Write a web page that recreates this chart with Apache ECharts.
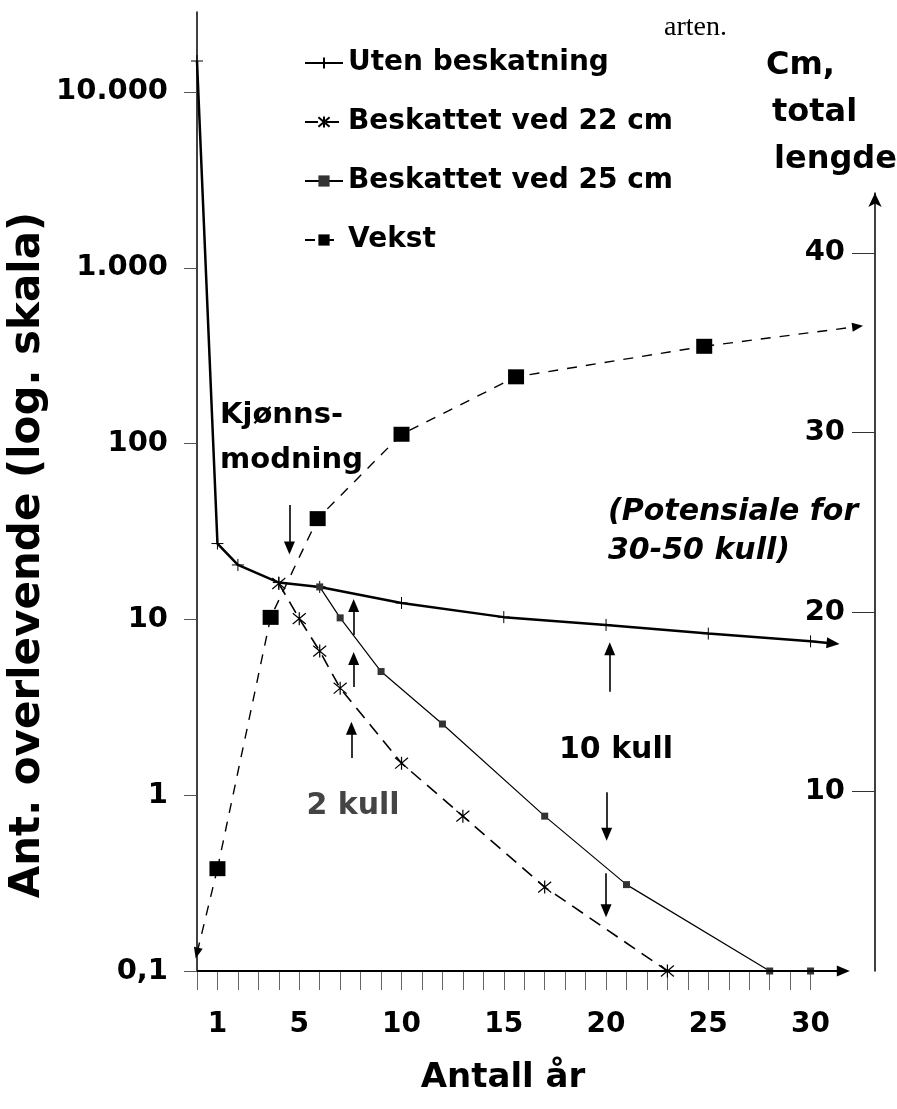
<!DOCTYPE html>
<html><head><meta charset="utf-8">
<script src="https://cdn.jsdelivr.net/npm/echarts@6/dist/echarts.min.js"></script>
<style>html,body{margin:0;padding:0;background:#fff}#c{width:897px;height:1109px}</style>
</head><body><div id="c"></div>
<script>
// ---- data ----
const yearsUten = [0, 1, 2, 4, 6, 10, 15, 20, 25, 30];
const valsUten  = [15000, 27, 20.4, 16.2, 15.3, 12.4, 10.3, 9.3, 8.3, 7.5];
const utenArrowEnd = [31.1, 7.3];

const years22 = [4, 5, 6, 7, 10, 13, 17, 23];
const vals22  = [16, 10.1, 6.6, 4.06, 1.52, 0.76, 0.30, 0.1];

const years25 = [6, 7, 9, 12, 17, 21, 28, 30];
const vals25  = [15.3, 10.2, 5.05, 2.54, 0.76, 0.31, 0.1, 0.1];

const yearsVekst = [1, 3.6, 5.9, 10, 15.6, 24.8];
const cmVekst    = [5.7, 19.7, 25.2, 29.9, 33.1, 34.8];
const vekstStart = [0, 1.0];
const vekstArrowEnd = [32.3, 35.9];

const xAxisArrowEnd = 31.6;
const xTickValues = Array.from({length: 31}, (_, i) => i);
const xLabelValues = [1, 5, 10, 15, 20, 25, 30];
const yTickValues = [0.1, 1, 10, 100, 1000, 10000];
const yTickLabels = ['0,1', '1', '10', '100', '1.000', '10.000'];
const cmTickValues = [10, 20, 30, 40];

// annotation arrows: [year, from value, to value]
const annotArrows = [
  [4.52, 44.8, 25.5],   // Kjønnsmodning
  [7.66, 8.15, 12.0],
  [7.66, 4.12, 6.0],
  [7.55, 1.63, 2.4],
  [20.18, 3.87, 6.8],
  [20.03, 1.04, 0.6],
  [20.0, 0.36, 0.22]
];

const FONT = '"DejaVu Sans", sans-serif';
const chart = echarts.init(document.getElementById('c'), null, {renderer: 'canvas'});

const pair = (xs, ys) => xs.map((x, i) => [x, ys[i]]);
const XMAX = 33.15;
const YMAX = 28500;
const CMMAX = 43.34;

const plusPath = 'path://M0,5L10,5M5,0L5,10';
const starPath = 'path://M0,0L10,10M10,0L0,10M5,-1L5,11';

const arrowLines = annotArrows.map(a => [
  {coord: [a[0], a[1]]}, {coord: [a[0], a[2]]}
]);

const option = {
  animation: false,
  backgroundColor: '#fff',
  grid: [
    {left: 197, right: 22, top: 12, bottom: 138},
    {left: 197, right: 22, top: 193, bottom: 138}
  ],
  xAxis: [
    {
      type: 'value', gridIndex: 0, min: 0, max: XMAX,
      axisLine: {show: false, onZero: false},
      splitLine: {show: false},
      axisTick: {show: true, length: 19, customValues: xTickValues,
        lineStyle: {color: '#666', width: 1}},
      axisLabel: {show: true, customValues: xLabelValues, margin: 40,
        fontFamily: FONT, fontWeight: 'bold', fontSize: 28, color: '#000'}
    },
    {
      type: 'value', gridIndex: 1, min: 0, max: XMAX, show: false,
      axisLine: {onZero: false}
    }
  ],
  yAxis: [
    {
      type: 'log', gridIndex: 0, min: 0.1, max: YMAX, logBase: 10,
      axisLine: {show: true, onZero: false, lineStyle: {color: '#000', width: 1.5}},
      splitLine: {show: false},
      axisTick: {show: true, length: 13, customValues: yTickValues,
        lineStyle: {color: '#555', width: 1}},
      minorTick: {show: false},
      axisLabel: {
        margin: 29, fontFamily: FONT, fontWeight: 'bold', fontSize: 29, color: '#000',
        formatter: v => {
          const i = yTickValues.findIndex(t => Math.abs(Math.log10(t) - Math.log10(v)) < 1e-6);
          return i >= 0 ? yTickLabels[i] : '';
        }
      }
    },
    {
      type: 'value', gridIndex: 1, position: 'right', min: 0, max: CMMAX,
      axisLine: {show: true, onZero: false, symbol: ['none', 'arrow'], symbolSize: [10, 14],
        lineStyle: {color: '#000', width: 1.5}},
      splitLine: {show: false},
      axisTick: {show: true, inside: true, length: 23, customValues: cmTickValues,
        lineStyle: {color: '#333', width: 1}},
      axisLabel: {show: true, inside: true, margin: 30, customValues: cmTickValues,
        fontFamily: FONT, fontWeight: 'bold', fontSize: 29, color: '#000'}
    }
  ],
  legend: {
    data: ['Uten beskatning', 'Beskattet ved 22 cm', 'Beskattet ved 25 cm', 'Vekst'],
    orient: 'vertical', left: 299, top: 43,
    itemWidth: 38, itemHeight: 14, itemGap: 29,
    selectedMode: false,
    textStyle: {fontFamily: FONT, fontWeight: 'bold', fontSize: 28, color: '#000', lineHeight: 30}
  },
  series: [
    {
      name: 'Uten beskatning', type: 'line', xAxisIndex: 0, yAxisIndex: 0,
      data: pair(yearsUten, valsUten),
      symbol: plusPath, symbolSize: 12, clip: false,
      lineStyle: {color: '#000', width: 2.5},
      itemStyle: {color: 'rgba(0,0,0,0)', borderColor: '#000', borderWidth: 1},
      markLine: {
        silent: true, symbol: ['none', 'triangle'], symbolSize: [11, 13],
        label: {show: false},
        lineStyle: {color: '#000', width: 2.5, type: 'solid'},
        data: [[{coord: pair(yearsUten, valsUten)[yearsUten.length - 1]}, {coord: utenArrowEnd}]]
      }
    },
    {
      name: 'Beskattet ved 22 cm', type: 'line', xAxisIndex: 0, yAxisIndex: 0,
      data: pair(years22, vals22),
      symbol: starPath, symbolSize: 13, clip: false,
      lineStyle: {color: '#000', width: 1.6, type: [13, 8]},
      itemStyle: {color: 'rgba(0,0,0,0)', borderColor: '#000', borderWidth: 1.2}
    },
    {
      name: 'Beskattet ved 25 cm', type: 'line', xAxisIndex: 0, yAxisIndex: 0,
      data: pair(years25, vals25),
      symbol: 'rect', symbolSize: 7, clip: false,
      lineStyle: {color: '#000', width: 1.2},
      itemStyle: {color: '#333'}
    },
    {
      name: 'Vekst', type: 'line', xAxisIndex: 1, yAxisIndex: 1,
      data: pair(yearsVekst, cmVekst),
      symbol: 'rect', symbolSize: [16, 15], clip: false,
      lineStyle: {color: '#000', width: 1.4, type: [10, 9]},
      itemStyle: {color: '#000'},
      markLine: {
        silent: true, symbol: ['none', 'triangle'], symbolSize: [9, 11],
        label: {show: false},
        lineStyle: {color: '#000', width: 1.4, type: [10, 9]},
        data: [
          [{coord: [yearsVekst[0], cmVekst[0]]}, {coord: vekstStart}],
          [{coord: [yearsVekst[yearsVekst.length - 1], cmVekst[cmVekst.length - 1]]}, {coord: vekstArrowEnd}]
        ]
      }
    },
    {
      name: 'helper', type: 'line', xAxisIndex: 0, yAxisIndex: 0,
      data: [[0, 0.1]], symbol: 'none', clip: false,
      lineStyle: {opacity: 0},
      markLine: {
        silent: true, symbol: ['none', 'triangle'], symbolSize: [11, 13],
        label: {show: false},
        lineStyle: {color: '#000', width: 2, type: 'solid'},
        data: [[{coord: [0, 0.1]}, {coord: [xAxisArrowEnd, 0.1]}]].concat(
          arrowLines.map(l => [
            Object.assign({}, l[0], {lineStyle: {width: 1.6}}), l[1]
          ])
        )
      }
    }
  ],
  graphic: [
    {type: 'text', x: 28, y: 555, rotation: Math.PI / 2,
      style: {text: 'Ant. overlevende (log. skala)', font: 'bold 42px ' + FONT, fill: '#000',
        align: 'center', verticalAlign: 'middle', textAlign: 'center', textVerticalAlign: 'middle'}},
    {type: 'text', x: 503, y: 1078,
      style: {text: 'Antall år', font: 'bold 34px ' + FONT, fill: '#000',
        align: 'center', verticalAlign: 'middle', textAlign: 'center', textVerticalAlign: 'middle'}},
    {type: 'text', x: 220, y: 415,
      style: {text: 'Kjønns-', font: 'bold 29px ' + FONT, fill: '#000',
        align: 'left', verticalAlign: 'middle', textAlign: 'left', textVerticalAlign: 'middle'}},
    {type: 'text', x: 220, y: 460,
      style: {text: 'modning', font: 'bold 29px ' + FONT, fill: '#000',
        align: 'left', verticalAlign: 'middle', textAlign: 'left', textVerticalAlign: 'middle'}},
    {type: 'text', x: 353, y: 806,
      style: {text: '2 kull', font: 'bold 30px ' + FONT, fill: '#444',
        align: 'center', verticalAlign: 'middle', textAlign: 'center', textVerticalAlign: 'middle'}},
    {type: 'text', x: 616, y: 750,
      style: {text: '10 kull', font: 'bold 30px ' + FONT, fill: '#000',
        align: 'center', verticalAlign: 'middle', textAlign: 'center', textVerticalAlign: 'middle'}},
    {type: 'text', x: 608, y: 512,
      style: {text: '(Potensiale for', font: 'italic bold 30px ' + FONT, fill: '#000',
        align: 'left', verticalAlign: 'middle', textAlign: 'left', textVerticalAlign: 'middle'}},
    {type: 'text', x: 608, y: 551,
      style: {text: '30-50 kull)', font: 'italic bold 30px ' + FONT, fill: '#000',
        align: 'left', verticalAlign: 'middle', textAlign: 'left', textVerticalAlign: 'middle'}},
    {type: 'text', x: 766, y: 66,
      style: {text: 'Cm,', font: 'bold 32px ' + FONT, fill: '#000',
        align: 'left', verticalAlign: 'middle', textAlign: 'left', textVerticalAlign: 'middle'}},
    {type: 'text', x: 772, y: 113,
      style: {text: 'total', font: 'bold 32px ' + FONT, fill: '#000',
        align: 'left', verticalAlign: 'middle', textAlign: 'left', textVerticalAlign: 'middle'}},
    {type: 'text', x: 774, y: 160,
      style: {text: 'lengde', font: 'bold 32px ' + FONT, fill: '#000',
        align: 'left', verticalAlign: 'middle', textAlign: 'left', textVerticalAlign: 'middle'}},
    {type: 'text', x: 664, y: 28,
      style: {text: 'arten.', font: '28px "Liberation Serif", serif', fill: '#000',
        align: 'left', verticalAlign: 'middle', textAlign: 'left', textVerticalAlign: 'middle'}}
  ]
};
chart.setOption(option);
</script>
</body></html>
